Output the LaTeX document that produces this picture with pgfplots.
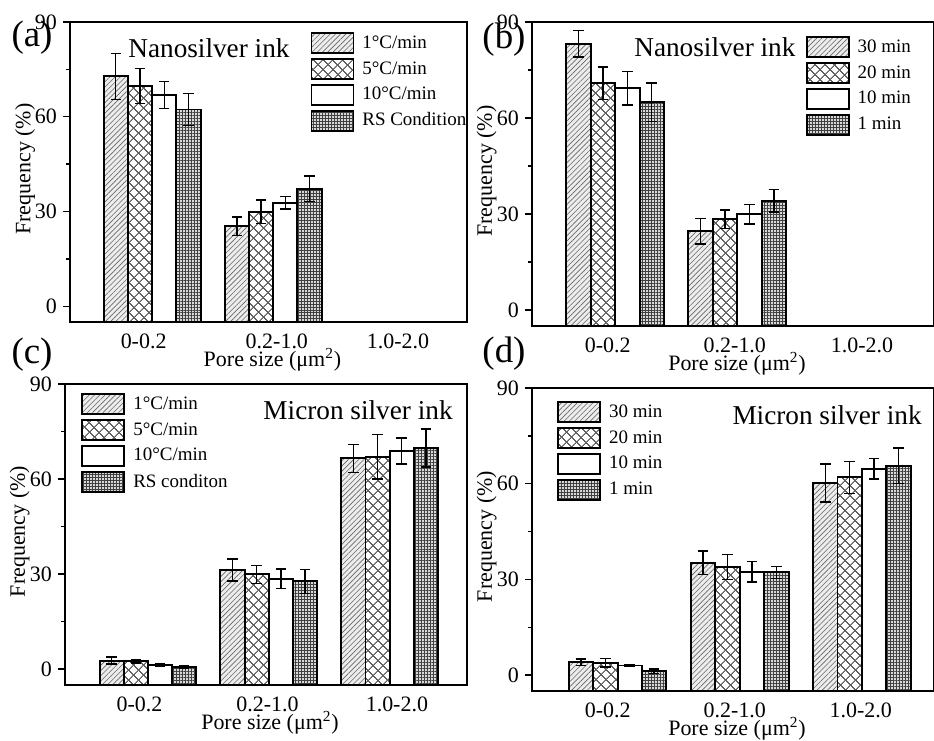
\documentclass[border=0pt]{standalone}
\usepackage{fontspec}
\setmainfont{Liberation Serif}
\usepackage{pgfplots}
\pgfplotsset{compat=1.18}
\usetikzlibrary{patterns.meta}

\newcommand\tickfont{\fontsize{12.5}{14}\selectfont}
\newcommand\titlefont{\fontsize{15.5}{18}\selectfont}
\newcommand\legfont{\fontsize{10.8}{12}\selectfont}

\pgfplotsset{
  legbox/.style={legend image code/.code={\draw[##1] (0cm,-0.2cm) rectangle (0.84cm,0.2cm);}},
  errs/.style={
    error bars/y dir=both, error bars/y explicit,
    error bars/error bar style={line width=0.8pt, black, solid},
    error bars/error mark options={rotate=90, mark size=3pt, line width=0.8pt, black}},
  s1/.style={draw=black, line width=1.1pt, fill=gray!14,
    postaction={pattern={Lines[angle=45, distance=2.1pt, line width=0.35pt]}, pattern color=gray!80!black},
    bar shift=-0.3, legbox, errs},
  s2/.style={draw=black, line width=1.1pt, fill=white,
    postaction={pattern={Hatch[angle=45, distance=4pt, line width=0.6pt]}, pattern color=gray!75!black},
    bar shift=-0.1, legbox, errs},
  s3/.style={draw=black, line width=1.1pt, fill=white,
    bar shift=0.1, legbox, errs},
  s4/.style={draw=black, line width=1.1pt, fill=gray!30,
    postaction={pattern={Hatch[angle=0, distance=1.7pt, line width=0.35pt]}, pattern color=black!75},
    bar shift=0.3, legbox, errs},
  panel/.style={
    scale only axis,
    ymin=-5, ymax=90,
    y coord trafo/.code={\pgfmathparse{##1+5}},
    y coord inv trafo/.code={\pgfmathparse{##1-5}},
    ytick={0,30,60,90},
    minor ytick={15,45,75},
    xtick pos=bottom, ytick pos=left,
    tick align=outside,
    major tick length=4pt, minor tick length=2.2pt,
    tick style={line width=0.8pt, black},
    major x tick style={draw=none},
    axis line style={line width=1.1pt},
    ybar=0pt, bar width=0.2,
    xticklabels={0-0.2, 0.2-1.0, 1.0-2.0},
    tick label style={font=\tickfont},
    xticklabel style={inner sep=0pt, yshift=-2.7pt},
    /pgf/number format/assume math mode=true,
    xlabel={Pore size (μm\textsuperscript{2})},
    ylabel={Frequency (\%)},
    every axis x label/.style={at={(axis description cs:0.51,0)}, anchor=center, yshift=-21.5pt, inner sep=0pt, font=\tickfont},
    every axis y label/.style={at={(axis description cs:-0.113,0.51)}, anchor=center, rotate=90, font=\tickfont},
    legend style={draw=none, fill=none, font=\legfont, anchor=north west,
      inner sep=0pt, row sep=2.2pt, column sep=3pt, nodes={inner sep=1.5pt}, cells={anchor=west}},
    legend cell align=left,
    clip=false,
  },
}

\begin{document}
\begin{tikzpicture}
\useasboundingbox (0,0) rectangle (18.68cm,14.8cm);

% (a)
\begin{axis}[panel, at={(1.40cm,8.36cm)}, anchor=south west,
  width=7.94cm, height=6.00cm, xmin=-0.678, xmax=2.60,
  xtick={-0.07,1.03,2.03},
  legend style={at={(axis description cs:0.605,0.967)}}]
\addplot[s1] coordinates {(0,72.8) +- (0,7.3) (1,25.3) +- (0,2.9)};
\addlegendentry{1°C/min}
\addplot[s2] coordinates {(0,69.7) +- (0,5.5) (1,29.9) +- (0,3.7)};
\addlegendentry{5°C/min}
\addplot[s3] coordinates {(0,66.9) +- (0,4.2) (1,32.8) +- (0,2.0)};
\addlegendentry{10°C/min}
\addplot[s4] coordinates {(0,62.3) +- (0,5.1) (1,37.2) +- (0,4.1)};
\addlegendentry{RS Condition}
\node[font=\titlefont] at (axis description cs:0.35,0.913) {Nanosilver ink};
\end{axis}

% (b)
\begin{axis}[panel, at={(10.64cm,8.28cm)}, anchor=south west,
  width=8.04cm, height=6.08cm, xmin=-0.68, xmax=2.61,
  xtick={-0.06,0.98,2.02},
  legend style={at={(axis description cs:0.68,0.954)}}]
\addplot[s1] coordinates {(0,83.2) +- (0,4.1) (1,24.6) +- (0,4.0)};
\addlegendentry{30 min}
\addplot[s2] coordinates {(0,70.8) +- (0,5.1) (1,28.3) +- (0,2.9)};
\addlegendentry{20 min}
\addplot[s3] coordinates {(0,69.3) +- (0,5.2) (1,29.9) +- (0,3.0)};
\addlegendentry{10 min}
\addplot[s4] coordinates {(0,65.0) +- (0,6.0) (1,34.1) +- (0,3.5)};
\addlegendentry{1 min}
\node[font=\titlefont] at (axis description cs:0.455,0.918) {Nanosilver ink};
\end{axis}

% (c)
\begin{axis}[panel, at={(1.30cm,1.10cm)}, anchor=south west,
  width=8.04cm, height=6.02cm, xmin=-0.686, xmax=2.64,
  xtick={-0.07,0.99,2.06},
  legend style={at={(axis description cs:0.04,0.970)}}]
\addplot[s1] coordinates {(0,2.7) +- (0,1.1) (1,31.3) +- (0,3.5) (2,66.5) +- (0,4.5)};
\addlegendentry{1°C/min}
\addplot[s2] coordinates {(0,2.5) +- (0,0.5) (1,29.9) +- (0,2.9) (2,67.0) +- (0,7.0)};
\addlegendentry{5°C/min}
\addplot[s3] coordinates {(0,1.4) +- (0,0.4) (1,28.5) +- (0,3.1) (2,68.8) +- (0,4.1)};
\addlegendentry{10°C/min}
\addplot[s4] coordinates {(0,0.7) +- (0,0.3) (1,27.7) +- (0,3.8) (2,69.8) +- (0,6.0)};
\addlegendentry{RS conditon}
\node[font=\titlefont] at (axis description cs:0.729,0.914) {Micron silver ink};
\end{axis}

% (d)
\begin{axis}[panel, at={(10.64cm,0.98cm)}, anchor=south west,
  width=8.04cm, height=6.06cm, xmin=-0.70, xmax=2.59,
  xtick={-0.08,0.96,1.99},
  legend style={at={(axis description cs:0.062,0.957)}}]
\addplot[s1] coordinates {(0,4.0) +- (0,1.0) (1,35.2) +- (0,3.7) (2,60.2) +- (0,6.0)};
\addlegendentry{30 min}
\addplot[s2] coordinates {(0,3.8) +- (0,1.3) (1,33.9) +- (0,3.9) (2,62.0) +- (0,5.0)};
\addlegendentry{20 min}
\addplot[s3] coordinates {(0,3.0) +- (0,0.4) (1,32.4) +- (0,3.2) (2,64.7) +- (0,3.2)};
\addlegendentry{10 min}
\addplot[s4] coordinates {(0,1.2) +- (0,0.7) (1,32.2) +- (0,1.9) (2,65.6) +- (0,5.6)};
\addlegendentry{1 min}
\node[font=\titlefont] at (axis description cs:0.734,0.911) {Micron silver ink};
\end{axis}

\node[font=\fontsize{21}{25}\selectfont, inner sep=0pt] at (0.64cm,14.04cm) {(a)};
\node[font=\fontsize{21}{25}\selectfont, inner sep=0pt] at (10.08cm,14.0cm) {(b)};
\node[font=\fontsize{21}{25}\selectfont, inner sep=0pt] at (0.64cm,7.70cm) {(c)};
\node[font=\fontsize{21}{25}\selectfont, inner sep=0pt] at (10.08cm,7.72cm) {(d)};
\end{tikzpicture}
\end{document}
